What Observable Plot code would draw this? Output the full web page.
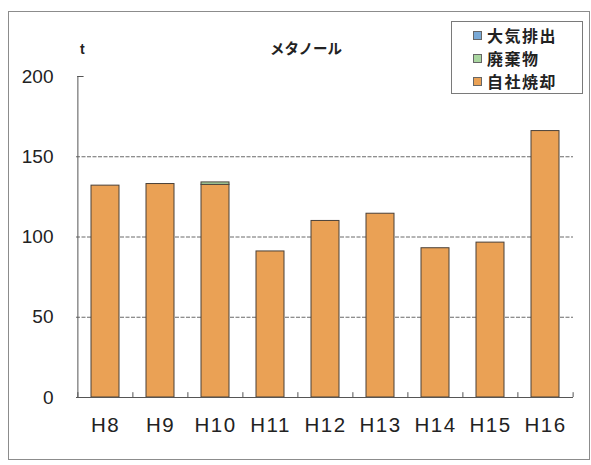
<!DOCTYPE html>
<html>
<head>
<meta charset="utf-8">
<script src="https://cdn.jsdelivr.net/npm/d3@7"></script>
<script src="https://cdn.jsdelivr.net/npm/@observablehq/plot@0.6"></script>
<style>
  body { margin: 0; background: #fff; }
  #chart { position: relative; width: 591px; height: 465px; font-family: "Liberation Sans", Arial, sans-serif; }
  #chart svg { position: absolute; left: 0; top: 0; }
  #frame { position: absolute; left: 8px; top: 11px; width: 580px; height: 447px; border: 1px solid #8c8c8c; }
  #title { position: absolute; left: 270px; top: 39px; font: bold 14.5px "Noto Sans CJK JP"; line-height: 18px; color: #222; }
  #unit { position: absolute; left: 80px; top: 40px; font: bold 14px "Liberation Sans", Arial, sans-serif; line-height: 18px; color: #222; }
  #legend { position: absolute; left: 451px; top: 21px; width: 130px; height: 71px; border: 1px solid #7a7a7a; background: #fff; }
  .item { position: absolute; left: 21px; font: bold 16px "Noto Sans CJK JP"; letter-spacing: 1.5px; line-height: 20px; color: #222; white-space: nowrap; }
  .sw { display: inline-block; width: 7px; height: 7px; border: 1px solid #666; margin-right: 5px; vertical-align: 2px; }
  .x-lab text { letter-spacing: 1.5px; }
</style>
</head>
<body>
<div id="chart">
  <div id="frame"></div>
  <div id="title">メタノール</div>
  <div id="unit">t</div>
  <div id="legend"></div>
</div>
<script>
// 年度（平成）
const years = ["H8", "H9", "H10", "H11", "H12", "H13", "H14", "H15", "H16"];
// 内訳ごとの量 (t)
const taiki = [0, 0, 0, 0, 0, 0, 0, 0, 0];          // 大気排出
const haiki = [0, 0, 1.5, 0, 0, 0, 0, 0, 0];        // 廃棄物
const jisha = [132, 133, 132.5, 91, 110, 114.5, 93, 96.5, 166]; // 自社焼却
const seriesNames = ["自社焼却", "廃棄物", "大気排出"];
const seriesColors = ["#eaa155", "#a9d6a0", "#79a9d6"];
const yTicks = [0, 50, 100, 150, 200];

const seriesValues = [jisha, haiki, taiki];
const rows = [];
years.forEach((y, i) => {
  seriesNames.forEach((s, k) => {
    rows.push({year: y, series: s, value: seriesValues[k][i]});
  });
});

const W = 591, H = 465, mL = 76, mR = 18, mT = 76, mB = 68;
const step = (W - mL - mR) / years.length;

const chart = Plot.plot({
  width: W,
  height: H,
  marginLeft: mL,
  marginRight: mR,
  marginTop: mT,
  marginBottom: mB,
  style: {background: "transparent", fontFamily: "Liberation Sans, Arial, sans-serif", color: "#222"},
  x: {domain: years, paddingInner: 0.5, paddingOuter: 0.25, label: null},
  y: {domain: [0, 200], label: null},
  color: {domain: seriesNames, range: seriesColors},
  marks: [
    Plot.ruleY([50, 100, 150], {stroke: "#6a6a6a", strokeWidth: 1, strokeDasharray: "4,1.5"}),
    Plot.barY(rows.filter(d => d.value > 0), {
      x: "year", y: "value", fill: "series", stroke: "#4a4038", strokeWidth: 1
    }),
    // 軸線
    Plot.ruleY([0], {stroke: "#555", strokeWidth: 1}),
    Plot.ruleX([years[0]], {y1: 0, y2: 200, dx: -step / 2, stroke: "#555", strokeWidth: 1}),
    // 上端の内向き目盛り
    Plot.tickY([200], {x: () => years[0], dx: -step / 4, insetRight: step / 2 - 6, stroke: "#555", strokeWidth: 1}),
    // 区切り目盛り
    Plot.ruleX(years, {y1: 0, y2: 3, dx: -step / 2, stroke: "#555", strokeWidth: 1}),
    Plot.ruleX([years[years.length - 1]], {y1: 0, y2: 3, dx: step / 2, stroke: "#555", strokeWidth: 1}),
    Plot.axisY({ticks: yTicks, tickSize: 0, tickPadding: 23, fontSize: 19, label: null}),
    Plot.axisX({tickSize: 0, tickPadding: 20, fontSize: 20.5, label: null, className: "x-lab"})
  ]
});
document.getElementById("chart").appendChild(chart);

// 凡例
const legend = document.getElementById("legend");
[["大気排出", seriesColors[2]], ["廃棄物", seriesColors[1]], ["自社焼却", seriesColors[0]]].forEach(([name, c], i) => {
  const el = document.createElement("div");
  el.className = "item";
  el.style.top = (3 + i * 23) + "px";
  el.innerHTML = `<span class="sw" style="background:${c}"></span>${name}`;
  legend.appendChild(el);
});
</script>
</body>
</html>
